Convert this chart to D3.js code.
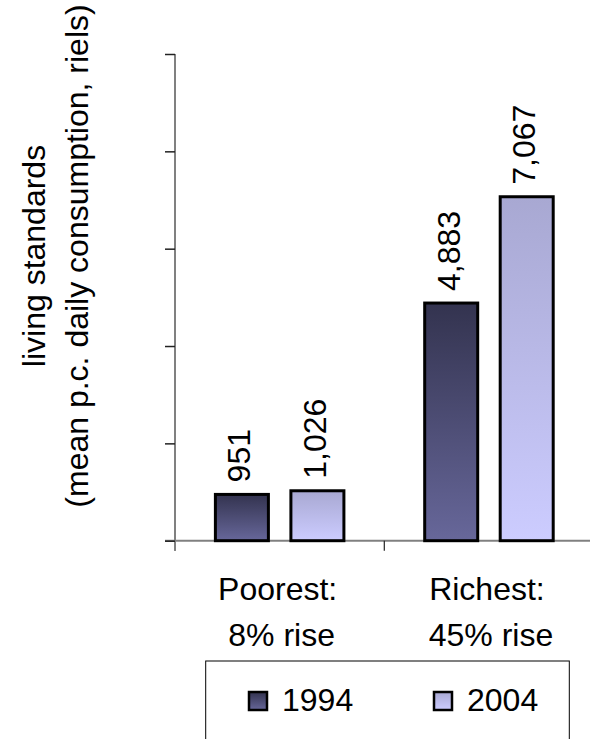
<!DOCTYPE html>
<html>
<head>
<meta charset="utf-8">
<script src="https://cdn.jsdelivr.net/npm/d3@7"></script>
<style>
  html, body { margin: 0; padding: 0; background: #fff; }
  svg { display: block; font-family: "Liberation Sans", Arial, sans-serif; }
</style>
</head>
<body>
<svg id="chart" width="590" height="739"></svg>
<script>
// Mean per-capita daily consumption (riels) by group and survey year
const categories = ["Poorest:", "Richest:"];
const categorySubLabels = ["8% rise", "45% rise"];
const seriesNames = ["1994", "2004"];
const values1994 = [951, 4883];
const values2004 = [1026, 7067];
const yTicks = [0, 2000, 4000, 6000, 8000, 10000];

const series = [
  { name: seriesNames[0], values: values1994, top: "#33334f", bottom: "#67679a" },
  { name: seriesNames[1], values: values2004, top: "#a8a8d2", bottom: "#ccccff" }
];

const svg = d3.select("#chart");
const fontSize = 32;

// Gradient fills
const defs = svg.append("defs");
series.forEach((s, i) => {
  const g = defs.append("linearGradient")
    .attr("id", "grad" + i)
    .attr("x1", 0).attr("y1", 0).attr("x2", 0).attr("y2", 1);
  g.append("stop").attr("offset", "0%").attr("stop-color", s.top);
  g.append("stop").attr("offset", "100%").attr("stop-color", s.bottom);
});

// Scales
const y = d3.scaleLinear().domain([0, 10000]).range([540.7, 54]);
const x0 = d3.scaleBand().domain(categories).range([175, 593.6]).padding(0);
const x1 = d3.scaleBand().domain(seriesNames).range([0, x0.bandwidth()])
  .paddingInner(0.298).paddingOuter(0.535);

// X axis line and category boundary ticks
svg.append("line")
  .attr("x1", 165).attr("x2", 593.6)
  .attr("y1", y(0)).attr("y2", y(0))
  .attr("stroke", "#808080").attr("stroke-width", 2);

const boundaries = categories.map(c => x0(c)).concat([x0.range()[1]]);
svg.selectAll("line.cat-tick").data(boundaries).join("line")
  .attr("class", "cat-tick")
  .attr("x1", d => d).attr("x2", d => d)
  .attr("y1", y(0)).attr("y2", y(0) + 10)
  .attr("stroke", "#222").attr("stroke-width", 1.2);

// Y axis (no tick labels)
const yAxis = d3.axisLeft(y).tickValues(yTicks).tickSize(10).tickFormat("");
const gy = svg.append("g").attr("transform", "translate(175,0)").call(yAxis);
gy.select(".domain").attr("stroke", "#808080").attr("stroke-width", 2)
  .attr("d", `M0,${y(10000)}V${y(0) + 10}`);
gy.selectAll(".tick line").attr("stroke", "#222").attr("stroke-width", 1.5);

// Bars
const groups = svg.selectAll("g.group").data(categories).join("g")
  .attr("class", "group")
  .attr("transform", c => `translate(${x0(c)},0)`);

series.forEach((s, si) => {
  groups.append("rect")
    .attr("x", x1(s.name))
    .attr("width", x1.bandwidth())
    .attr("y", (c, ci) => y(s.values[ci]))
    .attr("height", (c, ci) => y(0) - y(s.values[ci]))
    .attr("fill", `url(#grad${si})`)
    .attr("stroke", "#000")
    .attr("stroke-width", 3);

  // Rotated value labels
  groups.append("text")
    .attr("transform", (c, ci) => {
      const cx = x1(s.name) + x1.bandwidth() / 2 - 3;
      const cy = y(s.values[ci]) - 12;
      return `translate(${cx},${cy}) rotate(-90)`;
    })
    .attr("dy", "0.36em")
    .attr("text-anchor", "start")
    .attr("font-size", fontSize)
    .attr("fill", "#000")
    .text((c, ci) => d3.format(",")(s.values[ci]));
});

// Category labels
categories.forEach((c, i) => {
  const cx = x0(c) + x0.bandwidth() / 2;
  svg.append("text").attr("x", cx - 2).attr("y", 600)
    .attr("text-anchor", "middle").attr("font-size", fontSize).text(c);
  svg.append("text").attr("x", cx + 2).attr("y", 646)
    .attr("text-anchor", "middle").attr("font-size", fontSize).text(categorySubLabels[i]);
});

// Y axis title
const title = svg.append("text")
  .attr("transform", "translate(0,256) rotate(-90)")
  .attr("text-anchor", "middle")
  .attr("font-size", fontSize);
title.append("tspan").attr("x", 0).attr("y", 45).text("living standards");
title.append("tspan").attr("x", 0).attr("y", 88).text("(mean p.c. daily consumption, riels)");

// Legend
svg.append("rect")
  .attr("x", 205.7).attr("y", 661)
  .attr("width", 363.6).attr("height", 120)
  .attr("fill", "#fff").attr("stroke", "#000").attr("stroke-width", 1);

const legendX = [249, 434];
series.forEach((s, i) => {
  svg.append("rect")
    .attr("x", legendX[i]).attr("y", 692)
    .attr("width", 18).attr("height", 18)
    .attr("fill", `url(#grad${i})`)
    .attr("stroke", "#000").attr("stroke-width", 2.5);
  svg.append("text")
    .attr("x", legendX[i] + 33).attr("y", 711)
    .attr("font-size", fontSize).text(s.name);
});
</script>
</body>
</html>
